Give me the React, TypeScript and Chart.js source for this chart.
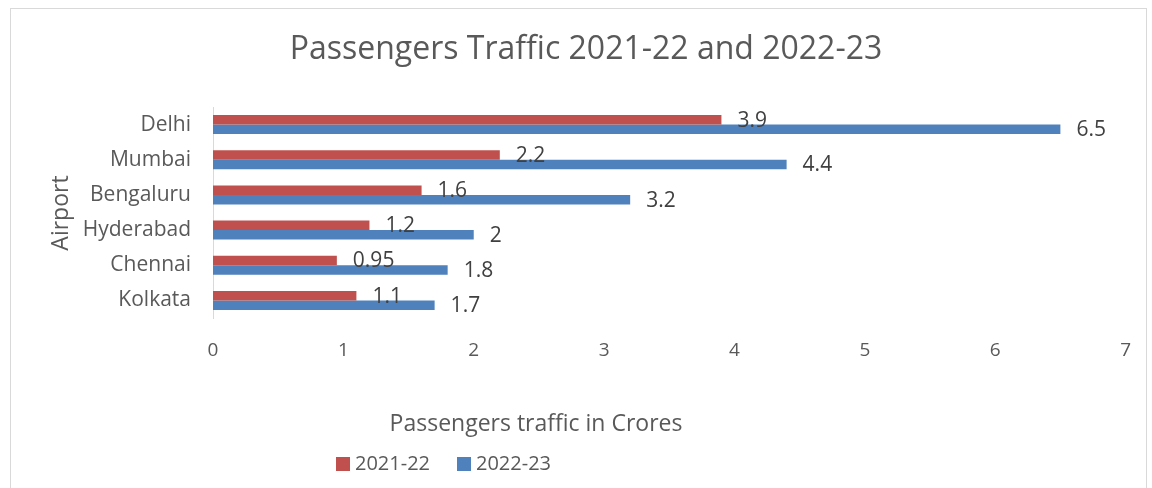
import React, { useEffect, useRef } from "react";
import { Chart, registerables } from "chart.js";

Chart.register(...registerables);

const categories = ["Delhi", "Mumbai", "Bengaluru", "Hyderabad", "Chennai", "Kolkata"];
const series2122 = [3.9, 2.2, 1.6, 1.2, 0.95, 1.1];
const series2223 = [6.5, 4.4, 3.2, 2, 1.8, 1.7];
const seriesNames = ["2021-22", "2022-23"];
const seriesColors = ["#C0504D", "#4F81BD"];
const xMin = 0;
const xMax = 7;
const chartTitle = "Passengers Traffic 2021-22 and 2022-23";
const xTitle = "Passengers traffic in Crores";
const yTitle = "Airport";

const FONT = "'Open Sans', 'Noto Sans', sans-serif";
const TEXT = "#595959";
const LABEL = "#404040";

const decor = {
  id: "decor",
  beforeDraw(chart: any) {
    const ctx = chart.ctx;
    ctx.save();
    ctx.fillStyle = "#ffffff";
    ctx.fillRect(0, 0, chart.width, chart.height);
    ctx.strokeStyle = "#d9d9d9";
    ctx.lineWidth = 1;
    ctx.strokeRect(10.5, 8.5, 1136, 490);
    ctx.restore();
  },
  afterDraw(chart: any) {
    const ctx = chart.ctx;
    ctx.save();
    // title
    ctx.fillStyle = TEXT;
    ctx.font = `32px ${FONT}`;
    ctx.textAlign = "center";
    ctx.textBaseline = "middle";
    ctx.fillText(chartTitle, 586, 50);
    // x axis title
    ctx.font = `23px ${FONT}`;
    ctx.fillText(xTitle, 536, 424);
    // y axis title
    ctx.save();
    ctx.translate(61, 213);
    ctx.rotate(-Math.PI / 2);
    ctx.fillText(yTitle, 0, 0);
    ctx.restore();
    // legend
    ctx.textAlign = "left";
    ctx.font = `20px ${FONT}`;
    let lx = 336;
    seriesNames.forEach((name, i) => {
      ctx.fillStyle = seriesColors[i];
      ctx.fillRect(lx, 457, 14, 14);
      ctx.fillStyle = TEXT;
      ctx.fillText(name, lx + 19, 464);
      lx += 121;
    });
    // data labels
    ctx.fillStyle = LABEL;
    ctx.font = `21px ${FONT}`;
    ctx.textBaseline = "middle";
    chart.data.datasets.forEach((ds: any, di: number) => {
      const meta = chart.getDatasetMeta(di);
      meta.data.forEach((el: any, idx: number) => {
        ctx.fillText(String(ds.data[idx]), el.x + 16, el.y + 1);
      });
    });
    ctx.restore();
  },
};

export default function App() {
  const ref = useRef<HTMLCanvasElement | null>(null);
  useEffect(() => {
    if (!ref.current) return;
    const chart = new Chart(ref.current, {
      type: "bar",
      data: {
        labels: categories,
        datasets: [
          { label: seriesNames[0], data: series2122, backgroundColor: seriesColors[0] },
          { label: seriesNames[1], data: series2223, backgroundColor: seriesColors[1] },
        ],
      },
      options: {
        indexAxis: "y",
        responsive: false,
        animation: false,
        layout: { padding: { top: 107, right: 25, left: 0, bottom: 0 } },
        datasets: { bar: { categoryPercentage: 0.54, barPercentage: 1 } },
        plugins: { legend: { display: false }, title: { display: false }, tooltip: { enabled: false } },
        scales: {
          x: {
            min: xMin,
            max: xMax,
            ticks: { stepSize: 1, color: TEXT, font: { family: FONT, size: 19 }, padding: 21 },
            grid: { display: false, drawTicks: false },
            border: { display: false },
            afterFit: (s: any) => { s.height = 170; },
          },
          y: {
            ticks: { color: TEXT, font: { family: FONT, size: 21 }, padding: 22 },
            grid: { display: false, drawTicks: false },
            border: { display: true, color: "#d9d9d9", width: 1 },
            afterFit: (s: any) => { s.width = 213; },
          },
        },
      },
      plugins: [decor],
    });
    return () => chart.destroy();
  }, []);
  return (
    <div style={{ position: "absolute", left: 0, top: 0, width: 1152, height: 488 }}>
      <canvas ref={ref} width={1152} height={488} style={{ display: "block" }} />
    </div>
  );
}
